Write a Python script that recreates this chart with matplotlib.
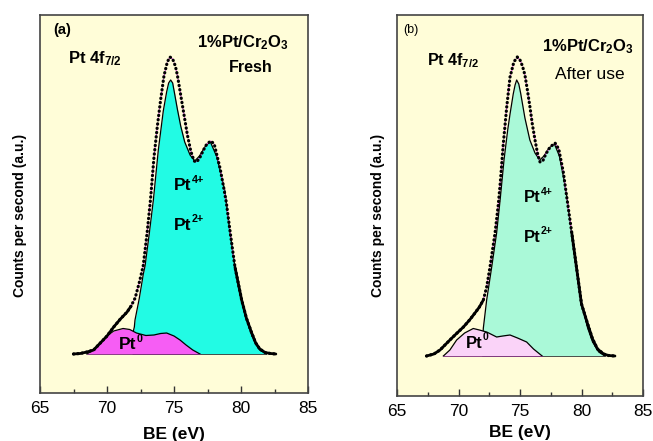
import matplotlib
matplotlib.use("Agg")
import matplotlib.pyplot as plt

plt.rcParams['font.family'] = ['Liberation Sans', 'DejaVu Sans']
plt.rcParams['mathtext.fontset'] = 'custom'
plt.rcParams['mathtext.rm'] = 'Liberation Sans'
plt.rcParams['mathtext.bf'] = 'Liberation Sans:bold'
plt.rcParams['mathtext.it'] = 'Liberation Sans:italic'

# ---------------- Panel (a): fresh ----------------
a_be = [67.5, 68.0, 68.5, 69.0, 69.5, 70.0, 70.5, 71.0, 71.5, 71.8, 72.1, 72.4, 72.7,
        73.0, 73.25, 73.5, 73.75, 74.0, 74.25, 74.5, 74.7, 74.9, 75.1, 75.25, 75.5,
        75.75, 76.0, 76.25, 76.5, 76.7, 76.95, 77.2, 77.45, 77.75, 78.0, 78.2, 78.45,
        78.7, 78.9, 79.2, 79.55, 80.05, 80.4, 80.8, 81.1, 81.4, 81.8, 82.2, 82.6]
a_counts = [0, 0.5, 2, 4, 11, 18, 27, 35, 42, 48, 56, 71, 88,
            122, 155, 196, 227, 254, 278, 292, 297, 295, 288, 279, 259,
            239, 219, 203, 193, 192, 197, 204, 210, 213, 210, 199, 185,
            167, 152, 121, 87, 54, 36, 21, 11, 5, 1.5, 0.5, 0]

a_hi_be = [71.95, 71.97, 72.04, 72.09, 72.4, 72.71, 72.84, 73.16, 73.46, 73.83, 74.2,
           74.45, 74.6, 74.75, 74.9, 75.05, 75.25, 75.5, 75.8, 76.2, 76.55, 76.9, 77.3,
           77.7, 78.2, 78.55, 78.8, 79.18, 79.55, 80.05, 80.5, 80.8, 81.1, 81.4, 81.9]
a_hi_counts = [0, 23, 27, 34, 55, 80, 88, 121, 154, 204, 243,
               262, 271, 274, 271, 260, 245, 228, 212, 199, 193, 198, 207,
               212.5, 197, 177, 163, 121, 87, 54, 31, 19, 10, 4, 0]

a_pt0_be = [68.5, 69.0, 69.5, 70.0, 70.5, 71.2, 71.7, 72.2, 72.9, 73.5, 74.0, 74.45,
            75.0, 75.45, 75.9, 76.4, 76.94]
a_pt0_counts = [0, 4, 11, 18, 23, 25.5, 24.5, 21, 18.5, 19, 20.5, 21,
                18, 14, 9, 4, 0]

# ---------------- Panel (b): after use ----------------
b_be = [67.4, 68.0, 68.5, 69.3, 69.8, 70.4, 70.9, 71.34, 71.7, 72.02, 72.29, 72.56,
        72.97, 73.24, 73.4, 73.64, 73.92, 74.19, 74.5, 74.78, 75.0, 75.2, 75.4, 75.6,
        75.81, 76.0, 76.22, 76.45, 76.63, 76.85, 77.1, 77.45, 77.85, 78.15, 78.52,
        78.8, 79.2, 79.6, 80.0, 80.5, 80.9, 81.3, 81.8, 82.2, 82.72]
b_counts = [0, 2, 6, 16, 22, 29, 36, 43, 49, 56, 69, 89,
            123, 152, 174, 212, 249, 279, 294, 299, 296, 290, 281, 266,
            249, 232, 216, 201, 194, 195, 202, 209, 213, 207, 184,
            159, 124, 88, 52, 32, 17, 7, 2, 0.5, 0]

b_hi_be = [71.97, 72.0, 72.02, 72.29, 72.7, 73.1, 73.4, 73.7, 74.0, 74.19, 74.45, 74.6,
           74.73, 74.9, 75.05, 75.4, 75.8, 76.22, 76.6, 76.95, 77.35, 77.8, 78.2, 78.55,
           78.8, 79.2, 79.6, 80.0, 80.5, 80.9, 81.4, 81.9]
b_hi_counts = [0, 24, 28, 56, 89, 123, 158, 196, 226, 242, 262, 271,
               276, 272, 263, 238, 216, 203, 196, 200, 208, 212, 200, 178,
               160, 122, 86, 52, 28, 14, 4, 0]

b_pt0_be = [68.77, 69.3, 69.85, 70.5, 71.2, 71.7, 72.29, 73.1, 73.6, 74.19, 74.8,
            75.54, 76.1, 76.8]
b_pt0_counts = [0, 6, 16, 23, 27.5, 26, 24, 19, 20, 21, 18, 14, 7, 0]

xticks = [65, 70, 75, 80, 85]
xtick_labels = ['65', '70', '75', '80', '85']

W, H = 653, 441
fig = plt.figure(figsize=(W / 100, H / 100), dpi=100)
fig.patch.set_facecolor('white')

bg = '#FFFDD8'

panels = [
    dict(rect=(40, 15, 308, 393), be=a_be, cnt=a_counts, hb=a_hi_be, hc=a_hi_counts,
         pb=a_pt0_be, pc=a_pt0_counts, hi_col='#22FBE4', pt0_col='#F65DF4',
         ylim=(-39, 339)),
    dict(rect=(397, 15, 643, 396), be=b_be, cnt=b_counts, hb=b_hi_be, hc=b_hi_counts,
         pb=b_pt0_be, pc=b_pt0_counts, hi_col='#AAF9D8', pt0_col='#FAD3F8',
         ylim=(-40, 341)),
]

axes = []
for p in panels:
    l, t, r, b = p['rect']
    ax = fig.add_axes([l / W, 1 - b / H, (r - l) / W, (b - t) / H])
    ax.set_facecolor(bg)
    ax.fill_between(p['hb'], 0, p['hc'], color=p['hi_col'], lw=0, zorder=2)
    ax.plot(p['hb'], p['hc'], color='black', lw=0.9, zorder=3)
    ax.plot(p['hb'], [0] * len(p['hb']), color='#333333', lw=0.6, zorder=3)
    ax.fill_between(p['pb'], 0, p['pc'], color=p['pt0_col'], lw=0, zorder=4)
    ax.plot(p['pb'], p['pc'], color='black', lw=0.9, zorder=5)
    ax.plot(p['pb'], [0] * len(p['pb']), color='#7a2a78', lw=0.6, zorder=5)
    ax.plot(p['be'], p['cnt'], color='#FF66FF', lw=0.8, ls=(0, (3, 2)), zorder=6)
    ax.plot(p['be'], p['cnt'], color='black', lw=2.3, ls=(0, (0.1, 1.25)),
            dash_capstyle='round', zorder=7)
    ax.plot(p['be'][:10], p['cnt'][:10], color='black', lw=2.0, zorder=7,
            solid_capstyle='round')
    ax.plot(p['be'][-9:], p['cnt'][-9:], color='black', lw=2.0, zorder=7,
            solid_capstyle='round')
    ax.set_xlim(65, 85)
    ax.set_ylim(*p['ylim'])
    ax.set_xticks(xticks)
    ax.set_xticklabels(xtick_labels)
    ax.set_xticks([67.5, 72.5, 77.5, 82.5], minor=True)
    ax.tick_params(axis='x', which='major', direction='in', length=5, width=1,
                   labelsize=12.5, pad=6, color='#333333')
    ax.tick_params(axis='x', which='minor', direction='in', length=3, width=1,
                   color='#333333')
    ax.set_yticks([])
    for s in ax.spines.values():
        s.set_color('#444444')
        s.set_linewidth(1.2)
    axes.append(ax)

axa, axb = axes


def ion_label(ax, x, y, sup, size):
    # base "Pt" ends at x, superscript starts at x
    ax.text(x, y, 'Pt', transform=ax.transAxes, fontsize=size, fontweight='bold',
            ha='right', va='center', zorder=10)
    ax.annotate(sup, xy=(x, y), xycoords='axes fraction', xytext=(0.3, 4.5),
                textcoords='offset points', fontsize=size * 0.62, fontweight='bold',
                ha='left', va='center', zorder=10)


# Panel (a) texts
axa.text(0.049, 0.96, '(a)', transform=axa.transAxes, fontsize=10.5, fontweight='bold',
         ha='left', va='center')
axa.text(0.104, 0.884, r'$\mathbf{Pt\ 4f}_{\mathbf{7/2}}$', transform=axa.transAxes,
         fontsize=12, ha='left', va='center')
axa.text(0.757, 0.926, r'$\mathbf{1\%Pt/Cr}_{\mathbf{2}}\mathbf{O}_{\mathbf{3}}$',
         transform=axa.transAxes, fontsize=12, ha='center', va='center')
axa.text(0.785, 0.861, 'Fresh', transform=axa.transAxes, fontsize=11.5,
         fontweight='bold', ha='center', va='center')
ion_label(axa, 0.565, 0.548, '4+', 12.5)
ion_label(axa, 0.565, 0.444, '2+', 12.5)
ion_label(axa, 0.36, 0.127, '0', 12.5)

# Panel (b) texts
axb.text(0.024, 0.961, '(b)', transform=axb.transAxes, fontsize=9,
         ha='left', va='center')
axb.text(0.122, 0.879, r'$\mathbf{Pt\ 4f}_{\mathbf{7/2}}$', transform=axb.transAxes,
         fontsize=11.5, ha='left', va='center')
axb.text(0.778, 0.916, r'$\mathbf{1\%Pt/Cr_2O_3}$', transform=axb.transAxes,
         fontsize=12, ha='center', va='center')
axb.text(0.785, 0.843, 'After use', transform=axb.transAxes, fontsize=12.5,
         ha='center', va='center')
ion_label(axb, 0.582, 0.52, '4+', 12)
ion_label(axb, 0.582, 0.417, '2+', 12)
ion_label(axb, 0.347, 0.139, '0', 12)

# Axis labels
fig.text(174 / W, 1 - 434 / H, 'BE (eV)', fontsize=12.5, fontweight='bold',
         ha='center', va='center')
fig.text(520 / W, 1 - 432 / H, 'BE (eV)', fontsize=12.5, fontweight='bold',
         ha='center', va='center')
fig.text(20 / W, 1 - 215 / H, 'Counts per second (a.u.)', fontsize=10,
         fontweight='bold', rotation=90, ha='center', va='center')
fig.text(378.5 / W, 1 - 215 / H, 'Counts per second (a.u.)', fontsize=10,
         fontweight='bold', rotation=90, ha='center', va='center')

fig.savefig('out.png', dpi=100)
